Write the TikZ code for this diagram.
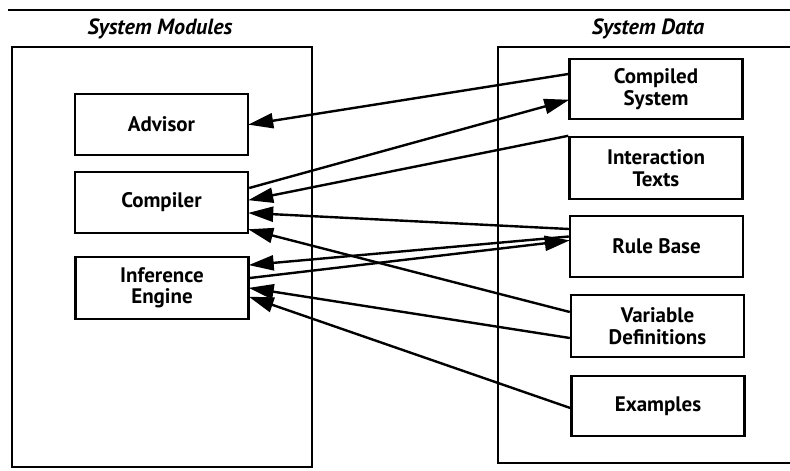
\documentclass[tikz,border=0pt]{standalone}
\usepackage{fontspec}
\setmainfont{PT Sans}
\usetikzlibrary{arrows.meta}
\begin{document}
\begin{tikzpicture}[x=1pt,y=-1pt,
  frame/.style={draw, line width=2.2pt},
  module/.style={draw, line width=2.4pt, minimum width=173pt, minimum height=61pt,
    inner sep=0pt, align=center, font=\fontsize{21}{21.5}\selectfont\bfseries},
  title/.style={font=\fontsize{22}{22}\selectfont\itshape\bfseries},
  link/.style={line width=2.4pt, -{Triangle[length=25pt,width=15pt]}, shorten >=-1pt}]
  \useasboundingbox (0,0) rectangle (790,471);

  % header rule and the two column frames
  \draw[line width=1.6pt] (8,10) -- (790,10);
  \draw[frame] (12,47) rectangle (312,467);
  \draw[frame] (800,47) -- (498,47) -- (498,463) -- (800,463);
  \node[title] (tmod) at (160,29) {System Modules};
  \node[title] (tdat) at (648,29) {System Data};

  % system modules
  \node[module] (adv)  at (161.5,124.5) {Advisor};
  \node[module] (comp) at (161.5,202.5) {Compiler};
  \node[module, minimum height=62pt] (ie) at (162,288) {Inference\\Engine};

  % system data
  \node[module, minimum height=60pt] (cs) at (656,89) {Compiled\\System};
  \node[module, minimum height=62pt] (it) at (656,168) {Interaction\\Texts};
  \node[module] (rb) at (656.5,246.5) {Rule Base};
  \node[module, minimum height=62pt] (vd) at (657.5,326) {Variable\\Definitions};
  \node[module, minimum height=60pt] (ex) at (658,406) {Examples};

  % data flow
  \draw[link] ([yshift=15pt]cs.west) -- (adv.east);
  \draw[link] ([yshift=14.5pt]comp.east) -- ([yshift=-11pt]cs.west);
  \draw[link] (it.north west) -- ([yshift=2.5pt]comp.east);
  \draw[link] ([yshift=17.5pt]rb.west) -- ([yshift=-10.5pt]comp.east);
  \draw[link] ([yshift=14pt]vd.west) -- ([yshift=-27pt]comp.east);
  \draw[link] ([yshift=10pt]rb.west) -- ([yshift=23pt]ie.east);
  \draw[link] ([yshift=10pt]ie.east) -- ([yshift=6pt]rb.west);
  \draw[link] ([yshift=-12pt]vd.west) -- (ie.east);
  \draw[link] ([yshift=-2pt]ex.west) -- ([yshift=-9pt]ie.east);
\end{tikzpicture}
\end{document}
